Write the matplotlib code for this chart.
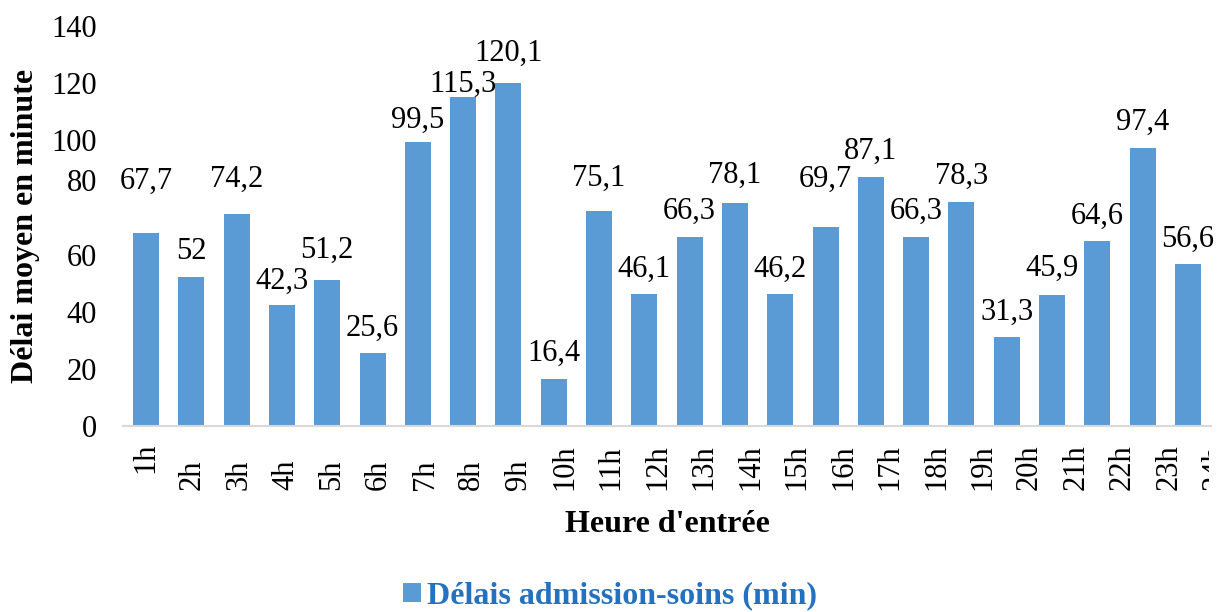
import numpy as np
import matplotlib
matplotlib.use("Agg")
import matplotlib.pyplot as plt
import matplotlib.transforms as mtransforms
from matplotlib.patches import Patch

# Mean delay between admission and care, by hour of arrival
hours = ["1h", "2h", "3h", "4h", "5h", "6h", "7h", "8h", "9h", "10h", "11h", "12h",
         "13h", "14h", "15h", "16h", "17h", "18h", "19h", "20h", "21h", "22h", "23h", "24h"]
delays = [67.7, 52, 74.2, 42.3, 51.2, 25.6, 99.5, 115.3, 120.1, 16.4, 75.1, 46.1,
          66.3, 78.1, 46.2, 69.7, 87.1, 66.3, 78.3, 31.3, 45.9, 64.6, 97.4, 56.6]
yticks = [0, 20, 40, 60, 80, 100, 120, 140]

# gap (px) between the top of each bar and the middle of its value label
label_lift = [54, 29, 38, 27, 32, 27, 24, 15, 32, 29, 36, 28,
              28, 30, 28, 50, 29, 28, 29, 27, 29, 28, 28, 28]

BAR = "#5B9BD5"
LEGEND_BLUE = "#2471BF"
SERIF = "Liberation Serif"

plt.rcParams["font.family"] = SERIF

W, H = 1220, 612
fig = plt.figure(figsize=(W / 100, H / 100), dpi=100)
x0, x1, ytop, ybase = 123.4, 1210.6, 26, 426
ax = fig.add_axes([x0 / W, (H - ybase) / H, (x1 - x0) / W, (ybase - ytop) / H])

x = np.arange(len(hours))
ax.bar(x, delays, width=0.574, color=BAR, zorder=2)
ax.set_xlim(-0.5, len(hours) - 0.5)
ax.set_ylim(0, 140)

for side in ["top", "right", "left"]:
    ax.spines[side].set_visible(False)
ax.spines["bottom"].set_color("#D9D9D9")
ax.spines["bottom"].set_linewidth(1.5)

ax.set_yticks(yticks)
ax.set_yticklabels([str(t) for t in yticks], fontsize=22)
ax.tick_params(axis="y", length=0, pad=19)
# the "80" label sits a little high
lab80 = ax.get_yticklabels()[yticks.index(80)]
lab80.set_transform(lab80.get_transform() +
                    mtransforms.ScaledTranslation(0, 0.17, fig.dpi_scale_trans))

# hour labels, rotated, laid out on a slightly wider step than the bars;
# anything past the right end of the axis line is cut away
ax.set_xticks([])
step = 46.5 / 45.3
lab_trans = mtransforms.blended_transform_factory(ax.transData, ax.transAxes)
cut = mtransforms.Bbox.from_extents(0, 0, 1209, H)
for i, h in enumerate(hours):
    base = -0.16 if i > 0 else -0.1175
    t = ax.text(i * step, base, h, transform=lab_trans, rotation=90,
                ha="center", va="bottom", fontsize=22)
    t.set_clip_box(cut)
    t.set_clip_on(True)

# value labels, French decimal comma
for i, v in enumerate(delays):
    txt = ("%g" % v).replace(".", ",")
    ax.annotate(txt, (i, v), xytext=(0, label_lift[i] - 10.4),
                textcoords="offset pixels", ha="center", va="baseline",
                fontsize=22, annotation_clip=False)

fig.text(33 / W, (H - 226) / H, "Délai moyen en minute", rotation=90,
         rotation_mode="anchor", ha="center", va="baseline",
         fontsize=23, fontweight="bold")
fig.text(667 / W, (H - 532) / H, "Heure d'entrée", ha="center",
         va="baseline", fontsize=23, fontweight="bold")

leg = fig.legend(handles=[Patch(facecolor=BAR, label="Délais admission-soins (min)")],
                 loc="center", bbox_to_anchor=(610 / W, (H - 596) / H),
                 frameon=False, borderpad=0, handlelength=0.55, handleheight=0.55,
                 handletextpad=0.2, prop={"family": SERIF, "weight": "bold", "size": 23})
for t in leg.get_texts():
    t.set_color(LEGEND_BLUE)

fig.savefig("out.png", dpi=100)
